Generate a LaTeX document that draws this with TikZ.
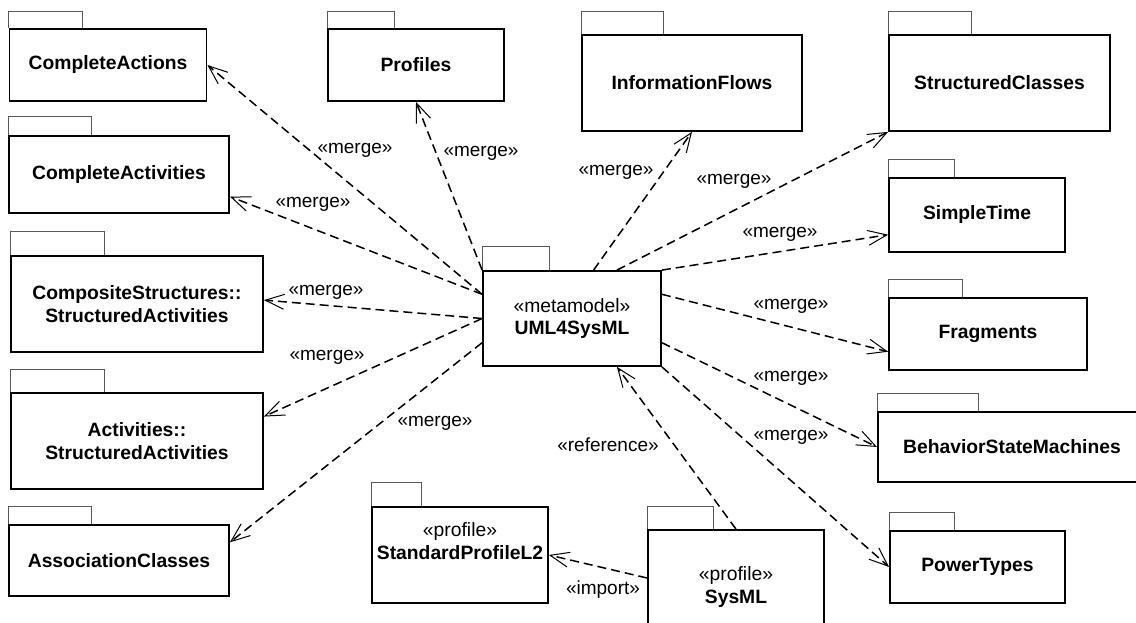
\documentclass[tikz,border=0pt]{standalone}
\usepackage{fontspec}
\setmainfont{Liberation Sans}
\usetikzlibrary{arrows.meta,calc}

% package tab drawn on top of a body node: node, tab width, tab height
\newcommand{\pkgtab}[3]{%
  \draw[tabline] (#1.north west) -- ++(0,-#3) -- ++(#2,0) -- ++(0,#3);}

\tikzset{
  pkg/.style 2 args={draw, line width=1.8pt, minimum width=#1, minimum height=#2,
    inner sep=0pt, align=center, font=\fontsize{19.3}{22.5}\selectfont\bfseries},
  pkgtext/.style={inner sep=0pt, align=center, font=\fontsize{19.3}{22.5}\selectfont},
  tabline/.style={draw=black!65, line width=1pt},
  dep/.style={dashed, dash pattern=on 9pt off 5pt, line width=1.5pt,
    -{Straight Barb[length=19pt,width=15pt,line width=1pt]}},
  stereo/.style={inner sep=0pt, font=\fontsize{19}{22}\selectfont}
}

\begin{document}
\begin{tikzpicture}[x=1pt,y=-1pt]
  \useasboundingbox (0,0) rectangle (1136,623);
  \clip (0,0) rectangle (1136,623);

  % Central metamodel package
  \node[pkg={178pt}{95pt}] (uml) at (572,318.5) {\mdseries «metamodel»\\UML4SysML};
  \pkgtab{uml}{67}{24}

  % Packages on the left
  \node[pkg={197pt}{72pt}] (cact) at (108,65) {CompleteActions};
  \pkgtab{cact}{74}{17}
  \node[pkg={220pt}{77pt}] (cacv) at (119,174.5) {CompleteActivities};
  \pkgtab{cacv}{83}{19}
  \node[pkg={252pt}{96pt}] (csa) at (137,304) {CompositeStructures::\\StructuredActivities};
  \pkgtab{csa}{94}{24}
  \node[pkg={252pt}{96pt}] (asa) at (137,441) {Activities::\\StructuredActivities};
  \pkgtab{asa}{94}{23}
  \node[pkg={220pt}{71pt}] (acl) at (119,560.5) {AssociationClasses};
  \pkgtab{acl}{83}{18}

  % Packages on the top
  \node[pkg={176pt}{72pt}] (prof) at (416,65) {Profiles};
  \pkgtab{prof}{67}{17}
  \node[pkg={220pt}{96pt}] (iflow) at (692,83) {InformationFlows};
  \pkgtab{iflow}{82}{23}

  % Packages on the right
  \node[pkg={221pt}{96pt}] (scl) at (999.5,83) {StructuredClasses};
  \pkgtab{scl}{83}{23}
  \node[pkg={176pt}{74pt}] (stime) at (977,215) {SimpleTime};
  \pkgtab{stime}{66}{18}
  \node[pkg={198pt}{72pt}] (frag) at (988,334) {Fragments};
  \pkgtab{frag}{74}{18}
  \node[pkg={268pt}{70pt}] (bsm) at (1012,447) {BehaviorStateMachines};
  \pkgtab{bsm}{101}{18}
  \node[pkg={175pt}{72pt}] (ptyp) at (977.5,567) {PowerTypes};
  \pkgtab{ptyp}{65}{18}

  % Profile packages at the bottom
  \node[pkg={176pt}{96pt}] (spl) at (460,555) {};
  \pkgtab{spl}{50}{24}
  \node[pkgtext] (spltext) at (460,541) {«profile»\\\textbf{StandardProfileL2}};
  \node[pkg={176pt}{96pt}] (sysml) at (736,578) {};
  \pkgtab{sysml}{66}{23}
  \node[pkgtext] (sysmltext) at (736,587) {«profile»\\\textbf{SysML}};

  % Merge dependencies
  \coordinate (uw1) at ($(uml.north west)!0.25!(uml.south west)$);
  \coordinate (uw3) at ($(uml.north west)!0.75!(uml.south west)$);
  \coordinate (ue1) at ($(uml.north east)!0.25!(uml.south east)$);
  \coordinate (ue3) at ($(uml.north east)!0.75!(uml.south east)$);
  \coordinate (un5) at ($(uml.north west)!0.62!(uml.north east)$);
  \coordinate (un6) at ($(uml.north west)!0.75!(uml.north east)$);
  \coordinate (us6) at ($(uml.south west)!0.75!(uml.south east)$);

  \draw[dep] (uw1) -- (cact.east);
  \draw[dep] (uw1) -- ($(cacv.north east)!0.78!(cacv.south east)$);
  \draw[dep] (uml.west) -- ($(csa.north east)!0.46!(csa.south east)$);
  \draw[dep] (uml.west) -- ($(asa.north east)!0.25!(asa.south east)$);
  \draw[dep] (uw3) -- ($(acl.north east)!0.25!(acl.south east)$);
  \draw[dep] (uml.north west) -- (prof.south);
  \draw[dep] (un5) -- (iflow.south);
  \draw[dep] (un6) -- (scl.south west);
  \draw[dep] (uml.north east) -- ($(stime.north west)!0.76!(stime.south west)$);
  \draw[dep] (ue1) -- ($(frag.north west)!0.74!(frag.south west)$);
  \draw[dep] (ue3) -- (bsm.west);
  \draw[dep] (uml.south east) -- (ptyp.west);

  % Reference and import
  \draw[dep] (sysml.north) -- (us6);
  \draw[dep] (sysml.west) -- (spl.east);

  % Labels of the dependencies
  \node[stereo] (m1) at (355,150) {«merge»};
  \node[stereo] (m2) at (313,204) {«merge»};
  \node[stereo] (m3) at (326,292) {«merge»};
  \node[stereo] (m4) at (327,357) {«merge»};
  \node[stereo] (m5) at (435,423) {«merge»};
  \node[stereo] (m6) at (481,153) {«merge»};
  \node[stereo] (m7) at (616,172) {«merge»};
  \node[stereo] (m8) at (734,181) {«merge»};
  \node[stereo] (m9) at (780,234) {«merge»};
  \node[stereo] (m10) at (791,306) {«merge»};
  \node[stereo] (m11) at (791,378) {«merge»};
  \node[stereo] (m12) at (791,437) {«merge»};
  \node[stereo] (mref) at (608,445) {«reference»};
  \node[stereo] (mimp) at (603,590) {«import»};
\end{tikzpicture}
\end{document}
